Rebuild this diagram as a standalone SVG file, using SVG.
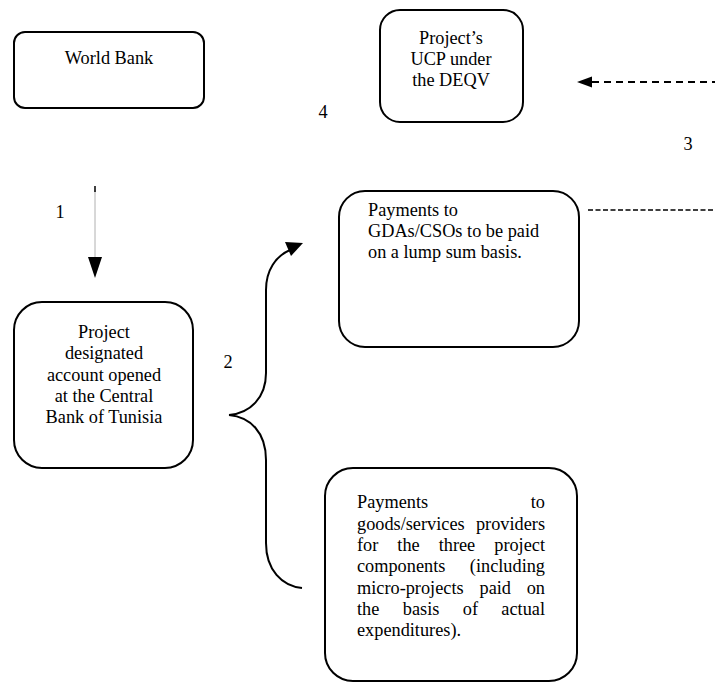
<svg xmlns="http://www.w3.org/2000/svg" width="715" height="683" viewBox="0 0 715 683">
<style>
.box{fill:#fff;stroke:#000;stroke-width:2}
.c{text-anchor:middle}
.e{text-anchor:end}
.conn{fill:none;stroke:#000;stroke-width:2}
</style>
<rect width="715" height="683" fill="#fff"/>
<g id="connectors">
  <line x1="95" y1="190" x2="95" y2="258" stroke="#b0b0b0" stroke-width="1"/>
  <line x1="95" y1="186" x2="95" y2="192" stroke="#000" stroke-width="1.5"/>
  <polygon points="88,257 102,257 95,278" fill="#000"/>
  <line x1="592" y1="82" x2="715" y2="82" stroke="#000" stroke-width="2" stroke-dasharray="7,5"/>
  <polygon points="577,82 592,76.5 592,87.5" fill="#000"/>
  <line x1="588" y1="210" x2="714" y2="210" stroke="#000" stroke-width="1.5" stroke-dasharray="5,2.5"/>
  <path class="conn" d="M229,415 C250,413 266,398 266,373 L266,290 C266,270 276,256 290,250"/>
  <polygon points="285,242 303,243 291,256" fill="#000"/>
  <path class="conn" d="M229,415 C250,417 266,432 266,460 L266,543 C266,570 282,586 302,588"/>
</g>
<g font-family="Liberation Serif, serif" font-size="18.3" fill="#000">
<g id="labels">
  <text x="323" y="118" class="c">4</text>
  <text x="688" y="150" class="c">3</text>
  <text x="60" y="218" class="c">1</text>
  <text x="228" y="368" class="c">2</text>
</g>
<g id="world-bank">
  <rect class="box" x="14" y="32" width="190" height="76" rx="11"/>
  <text x="109" y="64" class="c">World Bank</text>
</g>
<g id="ucp">
  <rect class="box" x="380" y="10" width="143" height="112" rx="20"/>
  <text x="451" y="44" class="c">Project’s</text>
  <text x="451" y="65" class="c">UCP under</text>
  <text x="451" y="86" class="c">the DEQV</text>
</g>
<g id="designated-account">
  <rect class="box" x="14" y="302" width="179" height="166" rx="28"/>
  <text x="104" y="338" class="c">Project</text>
  <text x="104" y="359" class="c">designated</text>
  <text x="104" y="380.5" class="c">account opened</text>
  <text x="104" y="402" class="c">at the Central</text>
  <text x="104" y="423" class="c">Bank of Tunisia</text>
</g>
<g id="payments-gda">
  <rect class="box" x="339" y="191" width="240" height="156" rx="26"/>
  <text x="368" y="216">Payments to</text>
  <text x="368" y="237">GDAs/CSOs to be paid</text>
  <text x="368" y="258">on a lump sum basis.</text>
</g>
<g id="payments-providers">
  <rect class="box" x="325" y="468" width="252" height="213" rx="28"/>
  <text x="357" y="508">Payments</text><text x="545" y="508" class="e">to</text>
  <text x="357" y="529.5">goods/services</text><text x="545" y="529.5" class="e">providers</text>
  <text x="357" y="551">for</text><text x="397.3" y="551">the</text><text x="438.7" y="551">three</text><text x="545" y="551" class="e">project</text>
  <text x="357" y="572">components</text><text x="545" y="572" class="e">(including</text>
  <text x="357" y="593.5">micro-projects</text><text x="479.5" y="593.5">paid</text><text x="545" y="593.5" class="e">on</text>
  <text x="357" y="615">the</text><text x="402.8" y="615">basis</text><text x="462.8" y="615">of</text><text x="545" y="615" class="e">actual</text>
  <text x="357" y="636">expenditures).</text>
</g>
</g>
</svg>
